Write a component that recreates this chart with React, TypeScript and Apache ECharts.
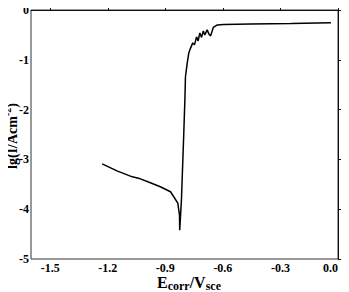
import React, { useEffect, useRef } from "react";
import * as echarts from "echarts";

const potential: number[] = [
  -1.229, -1.152, -1.072, -1.03, -0.978, -0.926, -0.873, -0.856, -0.835, -0.826, -0.825,
  -0.816, -0.805, -0.798, -0.795, -0.786, -0.778, -0.769, -0.757, -0.748, -0.737, -0.729,
  -0.72, -0.711, -0.702, -0.694, -0.682, -0.673, -0.664, -0.65, -0.629, -0.595, -0.455,
  -0.246, -0.037,
];
const logCurrent: number[] = [
  -3.09, -3.23, -3.35, -3.39, -3.47, -3.55, -3.65, -3.75, -3.88, -4.12, -4.42,
  -3.82, -2.61, -1.81, -1.34, -1.07, -0.87, -0.77, -0.66, -0.7, -0.54, -0.62,
  -0.46, -0.55, -0.42, -0.5, -0.4, -0.48, -0.52, -0.35, -0.3, -0.29, -0.28,
  -0.27, -0.255,
];
const xTickValues: number[] = [-1.5, -1.2, -0.9, -0.6, -0.3, 0.0];
const xLabelStep = 0.3;
const xRange = { min: -1.6, max: 0, interval: 0.1 };
const yTicks = { min: -5, max: 0, interval: 1 };

const FONT = "'Liberation Serif', 'Times New Roman', serif";

export default function App() {
  const ref = useRef<HTMLDivElement>(null);
  useEffect(() => {
    if (!ref.current) return;
    const chart = echarts.init(ref.current, null, { renderer: "svg" });
    const data = potential.map((x, i) => [x, logCurrent[i]]);
    chart.setOption({
      animation: false,
      grid: {
        left: 31,
        right: 11,
        top: 10,
        bottom: 33,
        show: true,
        borderColor: "#333",
        borderWidth: 1,
      },
      xAxis: {
        type: "value",
        min: xRange.min,
        max: xRange.max,
        interval: xRange.interval,
        axisLine: { show: true, lineStyle: { color: "#111", width: 1 } },
        axisTick: {
          show: true,
          inside: true,
          length: 4,
          customValues: xTickValues,
          lineStyle: { color: "#111" },
        },
        splitLine: { show: false },
        axisLabel: {
          color: "#000",
          fontFamily: FONT,
          fontWeight: "bold",
          fontSize: 12,
          margin: 3,
          interval: 0,
          showMinLabel: true,
          showMaxLabel: true,
          alignMaxLabel: "right",
          hideOverlap: false,
          formatter: (v: number) => {
            const r = v / xLabelStep;
            if (Math.abs(r - Math.round(r)) > 1e-6) return "";
            return Math.abs(v) < 1e-6 ? "0.0" : v.toFixed(1);
          },
        },
      },
      yAxis: {
        type: "value",
        min: yTicks.min,
        max: yTicks.max,
        interval: yTicks.interval,
        axisLine: { show: true, lineStyle: { color: "#111", width: 1 } },
        axisTick: { show: true, inside: true, length: 4, lineStyle: { color: "#111" } },
        splitLine: { show: false },
        axisLabel: {
          color: "#000",
          fontFamily: FONT,
          fontWeight: "bold",
          fontSize: 12,
          margin: 2,
        },
      },
      graphic: [
        {
          type: "text",
          x: 11,
          y: 136,
          rotation: Math.PI / 2,
          style: {
            text: "{n|lg(I/Acm}{s|-2}{n|)}",
            align: "center",
            verticalAlign: "middle",
            fill: "#000",
            rich: {
              n: { fontFamily: FONT, fontWeight: "bold", fontSize: 14, verticalAlign: "bottom", lineHeight: 14 },
              s: { fontFamily: FONT, fontWeight: "bold", fontSize: 10, verticalAlign: "top", padding: [0, 0, 7, 0] },
            },
          },
        },
        {
          type: "text",
          x: 189,
          y: 283,
          style: {
            text: "{n|E}{s|corr}{n|/V}{s|sce}",
            align: "center",
            verticalAlign: "middle",
            fill: "#000",
            rich: {
              n: { fontFamily: FONT, fontWeight: "bold", fontSize: 16, verticalAlign: "top", lineHeight: 16 },
              s: { fontFamily: FONT, fontWeight: "bold", fontSize: 12, verticalAlign: "top", padding: [6, 0, 0, 0] },
            },
          },
        },
      ],
      series: [
        {
          type: "line",
          data,
          showSymbol: false,
          symbol: "none",
          lineStyle: { color: "#000", width: 1.5 },
        },
      ],
    });
    return () => chart.dispose();
  }, []);
  return <div ref={ref} style={{ width: 349, height: 292, marginLeft: -8, marginTop: -8 }} />;
}
